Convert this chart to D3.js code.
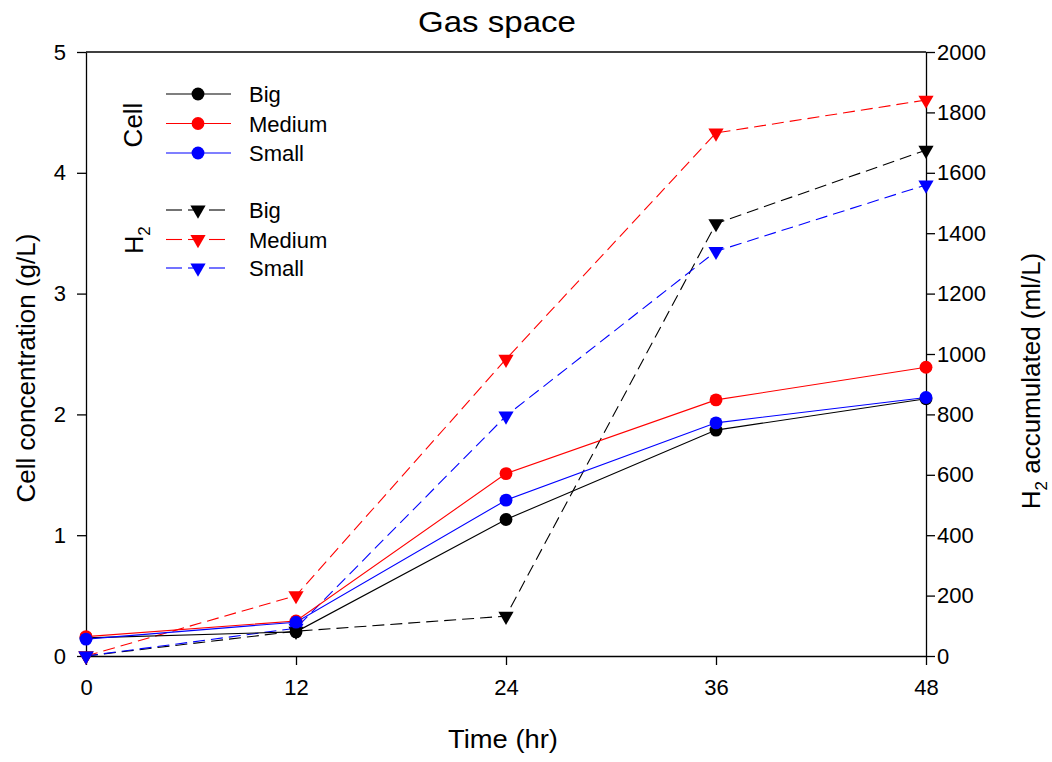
<!DOCTYPE html>
<html>
<head>
<meta charset="utf-8">
<script src="https://cdn.jsdelivr.net/npm/d3@7/dist/d3.min.js"></script>
<style>
  html, body { margin: 0; padding: 0; background: #fff; }
  svg { display: block; font-family: "Liberation Sans", Arial, sans-serif; }
</style>
</head>
<body>
<svg id="chart" width="1052" height="762"></svg>
<script>
// Sampling times (hr)
const times = [0, 12, 24, 36, 48];
const sizes = ["Big", "Medium", "Small"];

// Cell concentration (g/L), left axis
const cellBig    = [0.15, 0.20, 1.13, 1.87, 2.13];
const cellMedium = [0.16, 0.29, 1.51, 2.12, 2.39];
const cellSmall  = [0.14, 0.28, 1.29, 1.93, 2.14];

// H2 accumulated (ml/L), right axis
const h2Big    = [0, 82, 132, 1432, 1675];
const h2Medium = [0, 200, 983, 1732, 1841];
const h2Small  = [0, 92, 795, 1340, 1560];

// Tick labels
const xTicks = [0, 12, 24, 36, 48];
const yLeftTicks = [0, 1, 2, 3, 4, 5];
const yRightTicks = [0, 200, 400, 600, 800, 1000, 1200, 1400, 1600, 1800, 2000];

const colors = { Big: "#000000", Medium: "#ff0000", Small: "#0000ff" };

const cellSeries = [
  { name: "Big", values: cellBig },
  { name: "Medium", values: cellMedium },
  { name: "Small", values: cellSmall }
];
const h2Series = [
  { name: "Big", values: h2Big },
  { name: "Medium", values: h2Medium },
  { name: "Small", values: h2Small }
];

const svg = d3.select("#chart");
const plotLeft = 86, plotRight = 926, plotTop = 52, plotBottom = 656;

const x = d3.scaleLinear().domain([0, 48]).range([plotLeft, plotRight]);
const yL = d3.scaleLinear().domain([0, 5]).range([plotBottom, plotTop]);
const yR = d3.scaleLinear().domain([0, 2000]).range([plotBottom, plotTop]);

// Axes
const tickFont = "22px";
const gx = svg.append("g").attr("transform", `translate(0,${plotBottom})`)
  .call(d3.axisBottom(x).tickValues(xTicks).tickFormat(d3.format("d")).tickSize(9).tickSizeOuter(0).tickPadding(14));
const gl = svg.append("g").attr("transform", `translate(${plotLeft},0)`)
  .call(d3.axisLeft(yL).tickValues(yLeftTicks).tickFormat(d3.format("d")).tickSize(9).tickSizeOuter(0).tickPadding(11));
const gr = svg.append("g").attr("transform", `translate(${plotRight},0)`)
  .call(d3.axisRight(yR).tickValues(yRightTicks).tickFormat(d3.format("d")).tickSize(9).tickSizeOuter(0).tickPadding(2));
[gx, gl, gr].forEach(g => {
  g.selectAll("path.domain").attr("stroke", "#000").attr("stroke-width", 1.3);
  g.selectAll(".tick line").attr("stroke", "#000").attr("stroke-width", 1.3);
  g.selectAll(".tick text").attr("fill", "#000").style("font-size", tickFont)
    .style("font-family", "'Liberation Sans', Arial, sans-serif");
});
// Top frame line
svg.append("line").attr("x1", plotLeft).attr("x2", plotRight).attr("y1", plotTop).attr("y2", plotTop)
  .attr("stroke", "#000").attr("stroke-width", 1.3);

// Titles
svg.append("text").attr("x", 497).attr("y", 32).attr("text-anchor", "middle")
  .attr("textLength", 158).attr("lengthAdjust", "spacingAndGlyphs")
  .style("font-size", "29px").text("Gas space");
svg.append("text").attr("x", 503).attr("y", 748).attr("text-anchor", "middle")
  .attr("textLength", 110).attr("lengthAdjust", "spacingAndGlyphs")
  .style("font-size", "26px").text("Time (hr)");
svg.append("text").attr("transform", `translate(35,368) rotate(-90)`)
  .attr("text-anchor", "middle").style("font-size", "26px").text("Cell concentration (g/L)");
const rt = svg.append("text").attr("transform", `translate(1040,381) rotate(-90)`)
  .attr("text-anchor", "middle").style("font-size", "26px");
rt.append("tspan").text("H");
rt.append("tspan").attr("dy", 7).style("font-size", "17px").text("2");
rt.append("tspan").attr("dy", -7).text(" accumulated (ml/L)");

// Marker shapes
const circleSym = d3.symbol().type(d3.symbolCircle).size(130);
const triSym = d3.symbol().type(d3.symbolTriangle).size(100);

const lineL = d3.line().x((d, i) => x(times[i])).y(d => yL(d));
const lineR = d3.line().x((d, i) => x(times[i])).y(d => yR(d));

// H2 series: dashed lines with downward triangles
h2Series.forEach(s => {
  svg.append("path").datum(s.values).attr("d", lineR).attr("fill", "none")
    .attr("stroke", colors[s.name]).attr("stroke-width", 1.1).attr("stroke-dasharray", "12,6");
});
h2Series.forEach(s => {
  svg.append("g").selectAll("path").data(s.values).join("path")
    .attr("transform", (d, i) => `translate(${x(times[i])},${yR(d)}) rotate(180)`)
    .attr("d", triSym).attr("fill", colors[s.name]);
});

// Cell series: solid lines with circles
cellSeries.forEach(s => {
  svg.append("path").datum(s.values).attr("d", lineL).attr("fill", "none")
    .attr("stroke", colors[s.name]).attr("stroke-width", 1.1);
});
cellSeries.forEach(s => {
  svg.append("g").selectAll("path").data(s.values).join("path")
    .attr("transform", (d, i) => `translate(${x(times[i])},${yL(d)})`)
    .attr("d", circleSym).attr("fill", colors[s.name]);
});

// Legend
const lg = svg.append("g");
const lx1 = 166, lx2 = 231, lm = 198, ltx = 249;
const cellRows = [94, 123.5, 153];
const h2Rows = [210, 239.5, 268];
sizes.forEach((name, i) => {
  const y = cellRows[i];
  lg.append("line").attr("x1", lx1).attr("x2", lx2).attr("y1", y).attr("y2", y)
    .attr("stroke", colors[name]).attr("stroke-width", 1.1);
  lg.append("path").attr("transform", `translate(${lm},${y})`).attr("d", circleSym).attr("fill", colors[name]);
  lg.append("text").attr("x", ltx).attr("y", y + 8).style("font-size", "22px").text(name);
});
sizes.forEach((name, i) => {
  const y = h2Rows[i];
  lg.append("line").attr("x1", lx1).attr("x2", 182).attr("y1", y).attr("y2", y)
    .attr("stroke", colors[name]).attr("stroke-width", 1.1);
  lg.append("line").attr("x1", 188).attr("x2", 194).attr("y1", y).attr("y2", y)
    .attr("stroke", colors[name]).attr("stroke-width", 1.1);
  lg.append("line").attr("x1", 209).attr("x2", 225).attr("y1", y).attr("y2", y)
    .attr("stroke", colors[name]).attr("stroke-width", 1.1);
  lg.append("path").attr("transform", `translate(${lm},${y}) rotate(180)`).attr("d", triSym).attr("fill", colors[name]);
  lg.append("text").attr("x", ltx).attr("y", y + 8).style("font-size", "22px").text(name);
});
lg.append("text").attr("transform", `translate(142,125) rotate(-90)`).attr("text-anchor", "middle")
  .style("font-size", "26px").text("Cell");
const h2l = lg.append("text").attr("transform", `translate(143,240) rotate(-90)`).attr("text-anchor", "middle")
  .style("font-size", "25px");
h2l.append("tspan").text("H");
h2l.append("tspan").attr("dy", 7).style("font-size", "17px").text("2");
</script>
</body>
</html>
